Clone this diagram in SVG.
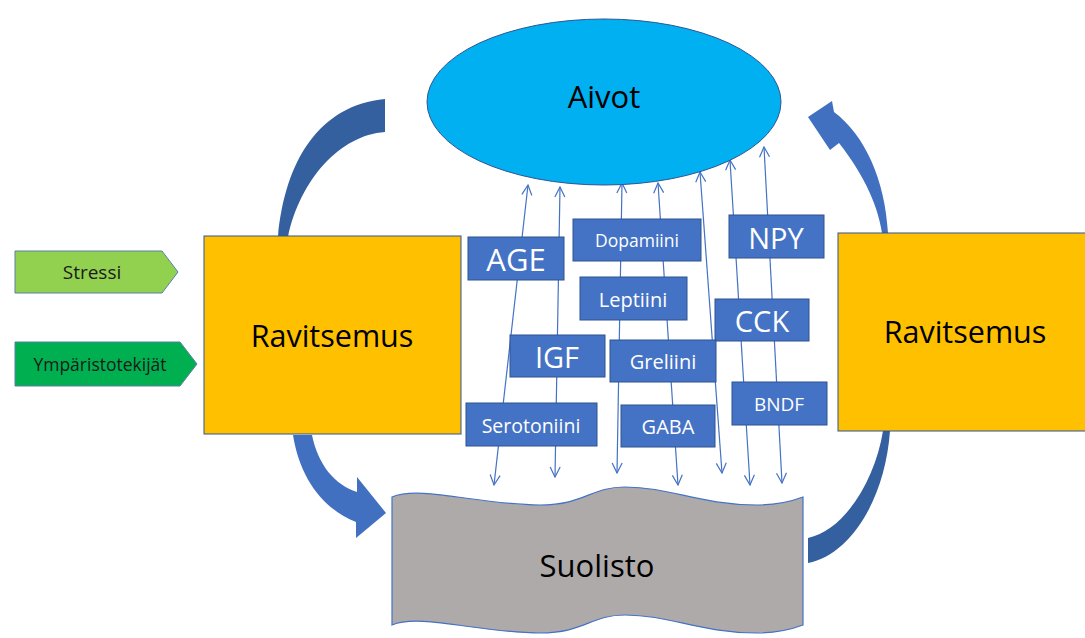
<svg xmlns="http://www.w3.org/2000/svg" width="1085" height="638" viewBox="0 0 1085 638">
<style>
.t{font-family:"Open Sans","Noto Sans","Liberation Sans",sans-serif;text-anchor:middle;dominant-baseline:central}
.lbl{fill:#4472C4;stroke:#2F528F;stroke-width:1}
.lt{fill:#fff}
.conn{stroke:#4472C4;stroke-width:1.2;fill:none;marker-start:url(#oa);marker-end:url(#oa)}
.big{fill:#4170C0}
.dark{fill:#34609F}
</style>
<defs>
<marker id="oa" viewBox="0 0 12 12" refX="11" refY="6" markerWidth="12" markerHeight="12" markerUnits="userSpaceOnUse" orient="auto-start-reverse">
<path d="M1,1 L11,6 L1,11" fill="none" stroke="#4472C4" stroke-width="1.2"/>
</marker>
</defs>
<rect width="1085" height="638" fill="#fff"/>

<g id="connectors">
<line class="conn" x1="528" y1="185" x2="494" y2="485"/>
<line class="conn" x1="560" y1="187" x2="555" y2="477"/>
<line class="conn" x1="622" y1="183" x2="617" y2="473"/>
<line class="conn" x1="658" y1="183" x2="678" y2="485"/>
<line class="conn" x1="700" y1="172" x2="722" y2="473"/>
<line class="conn" x1="730" y1="160" x2="750" y2="485"/>
<line class="conn" x1="764" y1="147" x2="782" y2="483"/>
<path class="dark" d="M278,237 C285,160 320,105 385,99 L385,132 C340,135 300,180 288,237 Z"/>
<path class="big" d="M888,233 C885,180 865,135 834,112 L832,101 L808,117 L830,150 L839,143 C860,170 877,200 882,233 Z"/>
<path class="big" d="M293,435 C300,480 325,510 356,522 L356,538 L386,513 L357,477 L357,492 C335,485 318,465 312,435 Z"/>
<path class="dark" d="M890,431 C885,500 850,555 808,563 L808,538 C845,530 875,480 883,431 Z"/>
</g>

<g id="aivot">
<ellipse cx="604" cy="102" rx="177" ry="83" fill="#00B0F0" stroke="#2F5597" stroke-width="1"/>
<text class="t" x="604" y="96" font-size="31" fill="#000">Aivot</text>
</g>

<g id="suolisto">
<path d="M392,497 C420,485 480,505 540,505 C585,505 590,487 625,487 C670,487 700,505 757,505 C780,505 795,500 803,497 L803,625 C795,628 780,633 757,633 C700,633 670,615 625,615 C590,615 585,633 540,633 C480,633 420,613 392,625 Z" fill="#AEAAAA" stroke="#4472C4" stroke-width="1.2"/>
<text class="t" x="597" y="565" font-size="31" fill="#000">Suolisto</text>
</g>

<g id="ravitsemus-left">
<rect x="204" y="236" width="257" height="198" fill="#FFC000" stroke="#2F5597" stroke-width="1"/>
<text class="t" x="332" y="335" font-size="30.5" fill="#000">Ravitsemus</text>
</g>

<g id="ravitsemus-right">
<rect x="838" y="233" width="250" height="198" fill="#FFC000" stroke="#2F5597" stroke-width="1"/>
<text class="t" x="965" y="331" font-size="30.5" fill="#000">Ravitsemus</text>
</g>

<g id="stressi">
<path d="M15,251 L162,251 L178,272 L162,293 L15,293 Z" fill="#92D050" stroke="#5B7FA6" stroke-width="1"/>
<text class="t" x="92" y="272" font-size="19" fill="#1a1a1a">Stressi</text>
</g>

<g id="ymparisto">
<path d="M15,342 L180,342 L197,364 L180,386 L15,386 Z" fill="#00B050" stroke="#5B7FA6" stroke-width="1"/>
<text class="t" x="100" y="364" font-size="17.5" fill="#1a1a1a">Ympäristotekijät</text>
</g>

<g id="age"><rect class="lbl" x="468" y="237" width="96" height="43"/><text class="t lt" x="516" y="259" font-size="31">AGE</text></g>
<g id="dopamiini"><rect class="lbl" x="573" y="219" width="128" height="42"/><text class="t lt" x="637" y="240" font-size="17.5">Dopamiini</text></g>
<g id="npy"><rect class="lbl" x="729" y="215" width="95" height="43"/><text class="t lt" x="776" y="237" font-size="29">NPY</text></g>
<g id="leptiini"><rect class="lbl" x="580" y="277" width="107" height="43"/><text class="t lt" x="633" y="299" font-size="20">Leptiini</text></g>
<g id="cck"><rect class="lbl" x="715" y="299" width="94" height="42"/><text class="t lt" x="762" y="320" font-size="29">CCK</text></g>
<g id="igf"><rect class="lbl" x="510" y="335" width="95" height="42"/><text class="t lt" x="557" y="356" font-size="29">IGF</text></g>
<g id="greliini"><rect class="lbl" x="610" y="340" width="106" height="42"/><text class="t lt" x="663" y="361" font-size="20">Greliini</text></g>
<g id="serotoniini"><rect class="lbl" x="466" y="403" width="131" height="43"/><text class="t lt" x="531" y="425" font-size="19.5">Serotoniini</text></g>
<g id="gaba"><rect class="lbl" x="621" y="405" width="94" height="42"/><text class="t lt" x="668" y="426" font-size="20">GABA</text></g>
<g id="bndf"><rect class="lbl" x="732" y="382" width="95" height="43"/><text class="t lt" x="779" y="404" font-size="19">BNDF</text></g>
</svg>
